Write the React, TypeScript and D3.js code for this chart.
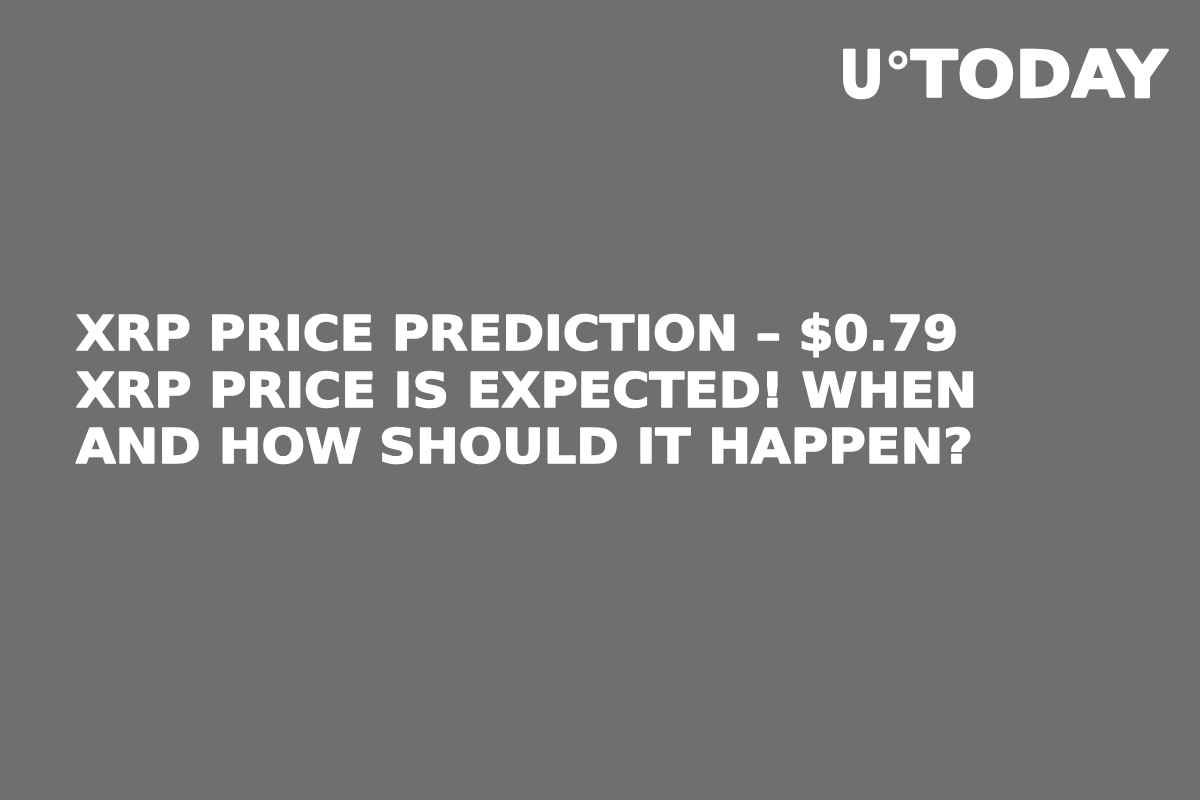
import React from 'react';
import { scaleLinear, range } from 'd3';

const titleLines = [
  'XRP PRICE PREDICTION – $0.79',
  'XRP PRICE IS EXPECTED! WHEN',
  'AND HOW SHOULD IT HAPPEN?',
];
// measured widths of each line in the picture
const lineWidths = [882, 901, 897];
const logoLeft = 'U';
const logoRight = 'TODAY';

const W = 1200;
const H = 800;
const FONT = '"DejaVu Sans", "Liberation Sans", sans-serif';

const App: React.FC = () => {
  const yScale = scaleLinear().domain([0, 2]).range([350, 463]);

  return (
    <div style={{ position: 'fixed', left: 0, top: 0 }}>
      <svg width={W} height={H} viewBox={`0 0 ${W} ${H}`}>
        <rect width={W} height={H} fill='#6f6f6f' />

        {/* logo */}
        <g fill='#fff' stroke='#fff' strokeWidth={2.4} strokeLinejoin='round' fontFamily={FONT} fontWeight={700} fontSize={64}>
          <text x={839} y={97} textLength={45} lengthAdjust='spacingAndGlyphs'>
            {logoLeft}
          </text>
          <circle cx={898} cy={60} r={7} fill='none' stroke='#fff' strokeWidth={5} />
          <text x={911} y={97} textLength={256} lengthAdjust='spacingAndGlyphs'>
            {logoRight}
          </text>
        </g>

        {/* title */}
        <g fill='#fff' stroke='#fff' strokeWidth={1.6} strokeLinejoin='round' fontFamily={FONT} fontWeight={700} fontSize={48}>
          {range(titleLines.length).map(i => (
            <text
              key={i}
              x={76}
              y={yScale(i)}
              textLength={lineWidths[i]}
              lengthAdjust='spacingAndGlyphs'
            >
              {titleLines[i]}
            </text>
          ))}
        </g>
      </svg>
    </div>
  );
};

export default App;
